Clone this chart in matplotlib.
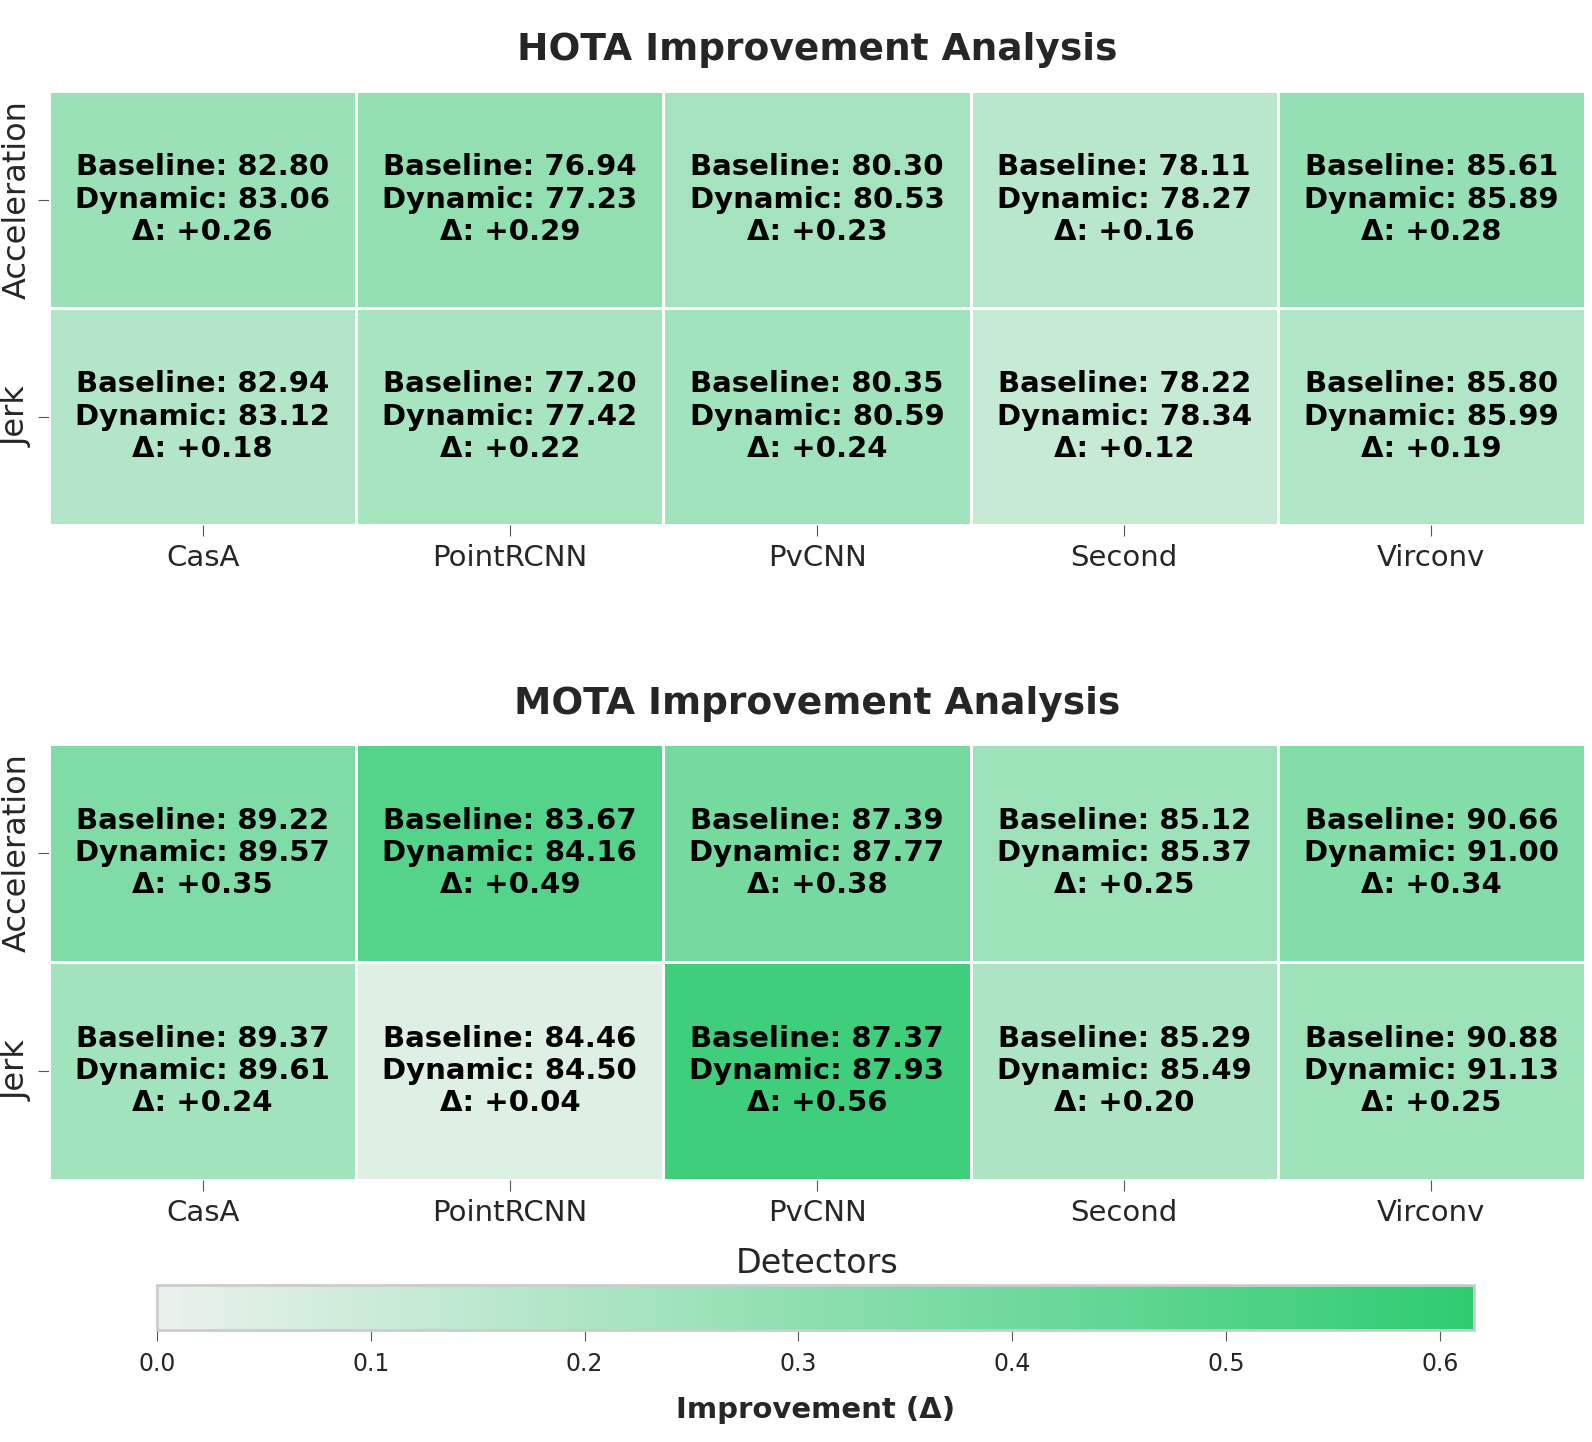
import numpy as np
import matplotlib as mpl
mpl.use('Agg')
import matplotlib.pyplot as plt
import seaborn as sns
from matplotlib.colors import LinearSegmentedColormap

detectors = ['CasA', 'PointRCNN', 'PvCNN', 'Second', 'Virconv']
models = ['Acceleration', 'Jerk']

hota_base = [[82.80, 76.94, 80.30, 78.11, 85.61],
             [82.94, 77.20, 80.35, 78.22, 85.80]]
hota_dyn = [[83.06, 77.23, 80.53, 78.27, 85.89],
            [83.12, 77.42, 80.59, 78.34, 85.99]]
mota_base = [[89.22, 83.67, 87.39, 85.12, 90.66],
             [89.37, 84.46, 87.37, 85.29, 90.88]]
mota_dyn = [[89.57, 84.16, 87.77, 85.37, 91.00],
            [89.61, 84.50, 87.93, 85.49, 91.13]]

sns.set_style('ticks')
plt.rcParams['font.family'] = ['DejaVu Sans']

cmap = LinearSegmentedColormap.from_list('grn', ['#eaf1ec', '#2ecc71'])

hb = np.array(hota_base); hd = np.array(hota_dyn)
mb = np.array(mota_base); md = np.array(mota_dyn)
hdelta = np.round(hd - hb, 2)
mdelta = np.round(md - mb, 2)
vmax = max(hdelta.max(), mdelta.max()) * 1.1

fig = plt.figure(figsize=(15.92, 14.42), dpi=100)
ax1 = fig.add_axes([0.0308, 0.6359, 0.9648, 0.301])
ax2 = fig.add_axes([0.0308, 0.1817, 0.9648, 0.3023])
cax = fig.add_axes([0.0986, 0.0777, 0.8273, 0.0312])


def annots(b, d, dl):
    out = []
    for i in range(b.shape[0]):
        row = []
        for j in range(b.shape[1]):
            row.append('Baseline: %.2f\nDynamic: %.2f\n\u0394: %+.2f' % (b[i, j], d[i, j], dl[i, j]))
        out.append(row)
    return np.array(out)


for ax, b, d, dl, title in [(ax1, hb, hd, hdelta, 'HOTA Improvement Analysis'),
                            (ax2, mb, md, mdelta, 'MOTA Improvement Analysis')]:
    sns.heatmap(dl, ax=ax, cmap=cmap, vmin=0, vmax=vmax, annot=annots(b, d, dl), fmt='',
                annot_kws={'fontsize': 21, 'fontweight': 'bold', 'color': 'black'},
                linewidths=0.8, linecolor='white', cbar=False,
                xticklabels=detectors, yticklabels=models)
    ax.set_title(title, fontsize=27, fontweight='bold', color='#262626', pad=22)
    ax.tick_params(axis='x', labelsize=21, length=8, color='#555555', labelcolor='#262626', pad=6)
    ax.tick_params(axis='y', labelsize=23, length=8, color='#555555', labelcolor='#262626', pad=4)
    plt.setp(ax.get_yticklabels(), rotation=90, va='center')

ax2.set_xlabel('Detectors', fontsize=24, color='#262626', labelpad=14)

sm = mpl.cm.ScalarMappable(cmap=cmap, norm=mpl.colors.Normalize(0, vmax))
cb = fig.colorbar(sm, cax=cax, orientation='horizontal')
cb.outline.set_edgecolor('#cccccc')
cb.outline.set_linewidth(2)
cax.tick_params(labelsize=17, length=8, color='#555555', labelcolor='#262626', pad=8)
cb.set_label('Improvement (\u0394)', fontsize=21, fontweight='bold', color='#262626', labelpad=14)

fig.savefig('out.png', dpi=100)
